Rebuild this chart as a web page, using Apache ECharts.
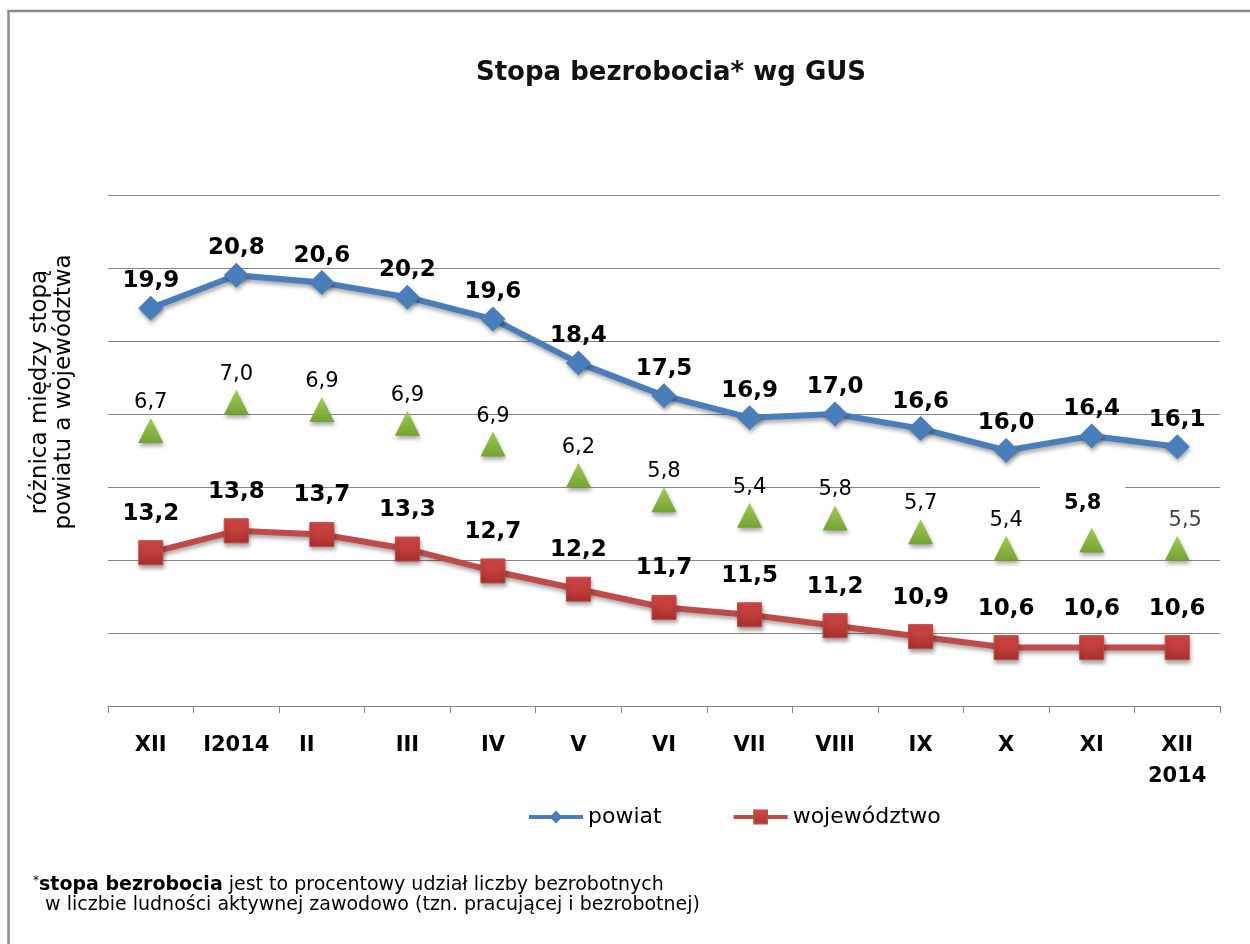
<!DOCTYPE html>
<html>
<head>
<meta charset="utf-8">
<script src="https://cdn.jsdelivr.net/npm/echarts@6/dist/echarts.min.js"></script>
<style>
html,body{margin:0;padding:0;background:#fff;}
#c{width:1250px;height:944px;}
</style>
</head>
<body>
<div id="c"></div>
<script>
var categories = ['XII','I2014','II','III','IV','V','VI','VII','VIII','IX','X','XI','XII\n2014'];
var powiat = [19.9,20.8,20.6,20.2,19.6,18.4,17.5,16.9,17.0,16.6,16.0,16.4,16.1];
var wojewodztwo = [13.2,13.8,13.7,13.3,12.7,12.2,11.7,11.5,11.2,10.9,10.6,10.6,10.6];
// difference labels as printed, and the marker heights (secondary axis)
var diffLabels = ['6,7','7,0','6,9','6,9','6,9','6,2','5,8','5,4','5,8','5,7','5,4','5,8','5,5'];
var diffMarker = [6.67,6.98,6.90,6.75,6.52,6.18,5.91,5.74,5.71,5.56,5.38,5.47,5.38];
var yMin = 9, yMax = 23, yStep = 2;

var FONT = 'DejaVu Sans';
var fmt = function (p) { return p.value.toFixed(1).replace('.', ','); };
var shadow = {shadowColor:'rgba(0,0,0,0.35)', shadowBlur:4, shadowOffsetY:3, shadowOffsetX:1};

var xData = categories.map(function (c) {
  if (c === 'II') return {value: c, textStyle: {padding: [0, 30, 0, 0]}};
  return c;
});

var diffData = diffMarker.map(function (v, i) {
  if (i === 11) {
    return {value: v, label: {fontWeight: 'bold', color: '#000', backgroundColor: '#fff', padding: [8, 24, 4, 24], distance: 9, offset: [-9, 0]}};
  }
  if (i === 12) {
    return {value: v, label: {color: '#444', offset: [8, 0]}};
  }
  return v;
});

var chart = echarts.init(document.getElementById('c'));
chart.setOption({
  backgroundColor: '#fff',
  animation: false,
  title: {
    text: 'Stopa bezrobocia* wg GUS',
    left: 666, top: 55, textAlign: 'center',
    textStyle: {fontFamily: FONT, fontSize: 26, fontWeight: 'bold', color: '#111'}
  },
  legend: {
    data: ['powiat', 'województwo'],
    left: 527, top: 806, padding: 0,
    itemWidth: 54, itemHeight: 16, itemGap: 70,
    lineStyle: {width: 4},
    textStyle: {fontFamily: FONT, fontSize: 22, color: '#000'}
  },
  grid: {left: 108, right: 30, top: 195, bottom: 238},
  xAxis: {
    type: 'category',
    data: xData,
    boundaryGap: true,
    axisLine: {show: true, lineStyle: {color: '#868686', width: 1}},
    axisTick: {show: true, alignWithLabel: false, interval: 0, length: 7, lineStyle: {color: '#868686', width: 1}},
    axisLabel: {fontFamily: FONT, fontSize: 21, fontWeight: 'bold', color: '#000', margin: 24, lineHeight: 31, interval: 0}
  },
  yAxis: [{
    type: 'value', min: yMin, max: yMax, interval: yStep,
    axisLine: {show: false}, axisTick: {show: false}, axisLabel: {show: false},
    splitLine: {lineStyle: {color: '#868686', width: 1}}
  }, {
    type: 'value', min: 3.65, max: 9.25, show: false,
    splitLine: {show: false}
  }],
  graphic: [
    {type: 'rect', shape: {x: 8.5, y: 11, width: 1400, height: 1100},
     style: {fill: 'none', stroke: '#8a8a8a', lineWidth: 2.5}, silent: true},
    {type: 'text', x: 52, y: 392, rotation: Math.PI / 2,
     style: {text: 'różnica między stopą\npowiatu a województwa', fontFamily: FONT, fontSize: 23,
             lineHeight: 24, align: 'center', verticalAlign: 'middle', fill: '#000'}},
    {type: 'text', x: 33, y: 875,
     style: {text: '{s|*}{b|stopa bezrobocia} jest to procentowy udział liczby bezrobotnych\n  w liczbie ludności aktywnej zawodowo (tzn. pracującej i bezrobotnej)',
             fontFamily: FONT, fontSize: 19, lineHeight: 20, fill: '#000',
             rich: {b: {fontFamily: FONT, fontSize: 19, fontWeight: 'bold', lineHeight: 20},
                    s: {fontFamily: FONT, fontSize: 12, lineHeight: 20, verticalAlign: 'top'}}}}
  ],
  series: [{
    name: 'powiat', type: 'line', data: powiat,
    symbol: 'diamond', symbolSize: 25,
    lineStyle: Object.assign({color: '#4a7ebb', width: 6}, shadow),
    itemStyle: Object.assign({color: '#4a7ebb'}, shadow),
    label: {show: true, position: 'top', distance: 3, formatter: fmt,
            fontFamily: FONT, fontSize: 23, fontWeight: 'bold', color: '#000'},
    z: 3
  }, {
    name: 'województwo', type: 'line', data: wojewodztwo,
    symbol: 'rect', symbolSize: 24,
    lineStyle: Object.assign({color: '#be4b48', width: 6}, shadow),
    itemStyle: Object.assign({
      color: new echarts.graphic.LinearGradient(0, 0, 0, 1, [{offset: 0, color: '#d94a47'}, {offset: 1, color: '#a8302d'}]),
      borderColor: '#be4b48', borderWidth: 1}, shadow),
    label: {show: true, position: 'top', distance: 15, formatter: fmt,
            fontFamily: FONT, fontSize: 23, fontWeight: 'bold', color: '#000'},
    z: 3
  }, {
    name: 'różnica', type: 'scatter', yAxisIndex: 1, data: diffData,
    symbol: 'triangle', symbolSize: 25,
    itemStyle: Object.assign({
      opacity: 1,
      color: new echarts.graphic.LinearGradient(0, 0, 0, 1, [{offset: 0, color: '#a2cc52'}, {offset: 1, color: '#72a332'}])}, shadow),
    label: {show: true, position: 'top', distance: 5, opacity: 1,
            formatter: function (p) { return diffLabels[p.dataIndex]; },
            fontFamily: FONT, fontSize: 21, color: '#000'},
    z: 2
  }]
});
</script>
</body>
</html>
